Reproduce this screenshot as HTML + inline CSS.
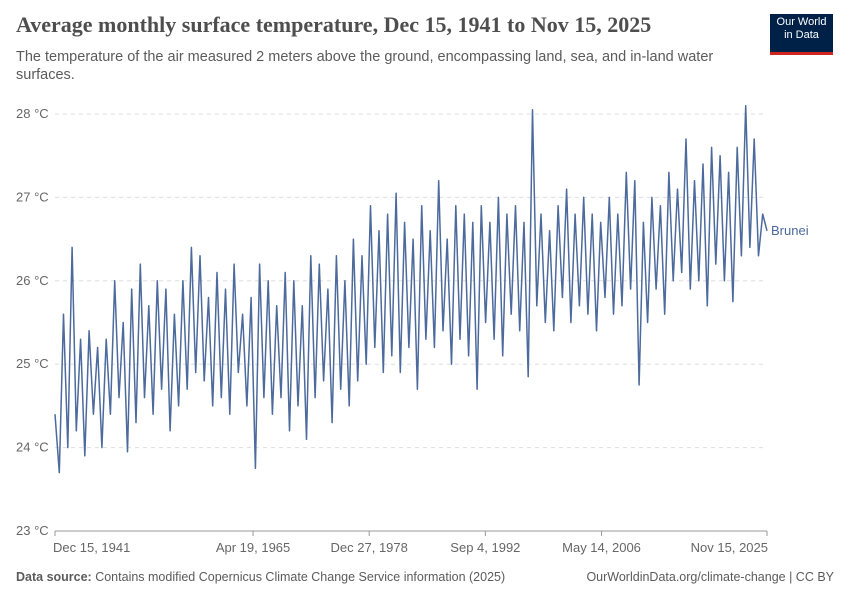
<!DOCTYPE html>
<html><head><meta charset="utf-8"><style>
body{margin:0;background:#fff;font-family:"Liberation Sans",sans-serif;}
#wrap{position:relative;width:850px;height:600px;overflow:hidden;}
.title{position:absolute;left:16px;top:12px;font-family:"Liberation Serif",serif;font-size:22px;font-weight:bold;color:#4e4e4e;}
.sub{position:absolute;left:16px;top:48px;width:720px;font-size:14.5px;line-height:18px;color:#5b5b5b;}
.logo{position:absolute;left:770px;top:14px;width:63px;height:36px;background:#002147;border-bottom:3px solid #ce261e;color:#fff;font-size:11px;line-height:13px;text-align:center;padding-top:2px;box-sizing:content-box;}
.foot{position:absolute;top:570px;font-size:12.5px;color:#5b5b5b;}
</style></head><body>
<div id="wrap">
<div class="title">Average monthly surface temperature, Dec 15, 1941 to Nov 15, 2025</div>
<div class="sub">The temperature of the air measured 2 meters above the ground, encompassing land, sea, and in-land water surfaces.</div>
<div class="logo">Our World<br>in Data</div>
<svg id="chart" width="850" height="600" style="position:absolute;left:0;top:0"></svg>
<div class="foot" style="left:16px"><b>Data source:</b> Contains modified Copernicus Climate Change Service information (2025)</div>
<div class="foot" style="right:16px">OurWorldinData.org/climate-change | CC BY</div>
</div>
<script>
const yTicks=[23,24,25,26,27,28];
const xTickYears=[1941.96,1965.3,1978.99,1992.68,2006.37,2025.87];
const xTickLabels=["Dec 15, 1941","Apr 19, 1965","Dec 27, 1978","Sep 4, 1992","May 14, 2006","Nov 15, 2025"];
const seriesName="Brunei";
const temps=[24.4,23.7,25.6,24.0,26.4,24.2,25.3,23.9,25.4,24.4,25.2,24.0,25.3,24.4,26.0,24.6,25.5,23.95,25.9,24.3,
26.2,24.6,25.7,24.4,26.0,24.7,25.9,24.2,25.6,24.5,26.0,24.7,26.4,24.9,26.3,24.8,25.8,24.5,26.1,24.6,
25.9,24.4,26.2,24.9,25.6,24.5,25.8,23.75,26.2,24.6,26.0,24.4,25.7,24.6,26.1,24.2,26.0,24.5,25.7,24.1,
26.3,24.6,26.2,24.8,25.9,24.3,26.3,24.7,26.0,24.5,26.5,24.8,26.3,25.0,26.9,25.2,26.6,24.9,26.8,25.1,
27.05,24.9,26.7,25.2,26.5,24.7,26.9,25.3,26.6,25.2,27.2,25.4,26.5,25.0,26.9,25.3,26.8,25.1,26.7,24.7,
26.9,25.5,26.7,25.3,27.0,25.1,26.8,25.6,26.9,25.4,26.7,24.85,28.05,25.7,26.8,25.5,26.6,25.4,26.9,25.8,
27.1,25.5,26.8,25.7,27.0,25.6,26.8,25.4,26.7,25.8,27.0,25.6,26.8,25.7,27.3,25.9,27.2,24.75,26.7,25.5,
27.0,25.9,26.9,25.6,27.3,26.0,27.1,26.1,27.7,25.9,27.2,26.0,27.4,25.7,27.6,26.2,27.5,26.0,27.3,25.75,
27.6,26.3,28.1,26.4,27.7,26.3,26.8,26.6];
const t0=1941.96,t1=2025.87;
const X=t=>55+(t-t0)/(t1-t0)*712;
const Y=v=>531-(v-23)*83.4;
const svg=document.getElementById('chart');
const NS='http://www.w3.org/2000/svg';
function mk(tag,attrs){const e=document.createElementNS(NS,tag);for(const k in attrs)e.setAttribute(k,attrs[k]);svg.appendChild(e);return e;}
yTicks.forEach(v=>{
 const l=mk('line',{x1:55,x2:767,y1:Y(v),y2:Y(v),stroke:v===23?'#999':'#ddd','stroke-dasharray':v===23?'':'4,4'});
 
 
 const t=mk('text',{x:16,y:Y(v)+4,'font-size':13,fill:'#666','font-family':'Liberation Sans'});
 t.textContent=v+' °C';
 
 
});
xTickYears.forEach((yr,i)=>{
 const x=X(yr);
 const tk=mk('line',{x1:x,x2:x,y1:531,y2:536,stroke:'#999'});
 
 
 const anchor=i===0?'start':(i===xTickYears.length-1?'end':'middle');
 const t=mk('text',{x:i===0?x-2:(i===xTickYears.length-1?x+1:x),y:552,'font-size':13,fill:'#666','text-anchor':anchor,'font-family':'Liberation Sans'});
 t.textContent=xTickLabels[i];
 
 
});
const step=(t1-t0)/(temps.length-1);
const d=temps.map((v,i)=>(i?'L':'M')+X(t0+i*step).toFixed(1)+','+Y(v).toFixed(1)).join('');
const p=mk('path',{d:d,fill:'none',stroke:'#4c6a9c','stroke-width':1.5,'stroke-linejoin':'round'});


const last=temps[temps.length-1];
const lb=mk('text',{x:771,y:Y(last)+4,'font-size':13,fill:'#4c6a9c','font-family':'Liberation Sans'});
lb.textContent=seriesName;


</script>
</body></html>
